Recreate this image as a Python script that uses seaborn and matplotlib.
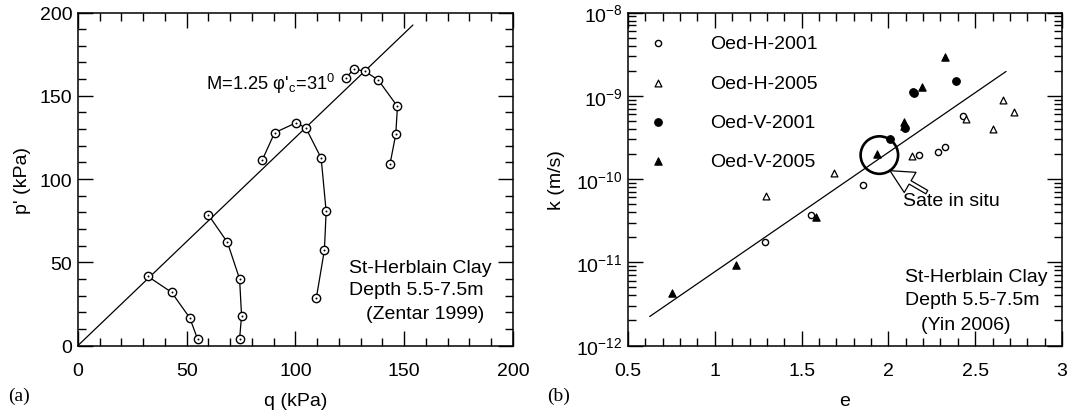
import numpy as np
import pandas as pd
import matplotlib
matplotlib.use("Agg")
import matplotlib.pyplot as plt
import seaborn as sns
from matplotlib.ticker import MultipleLocator, LogLocator, NullFormatter

# ---- (a) undrained stress paths, St-Herblain clay ----
path1_q = [32.0, 43.0, 51.4, 55.0]
path1_p = [41.6, 32.0, 16.6, 3.8]
path2_q = [59.9, 68.7, 74.3, 75.2, 74.3]
path2_p = [78.6, 62.0, 40.0, 18.0, 3.8]
path3_q = [84.8, 90.4, 100.3, 104.8, 111.8, 114.1, 113.3, 109.6]
path3_p = [111.6, 127.8, 133.8, 130.6, 112.6, 80.6, 57.4, 28.6]
path4_q = [123.1, 126.8, 131.9, 138.1, 146.9, 146.1, 143.5]
path4_p = [160.6, 166.0, 164.8, 159.4, 143.6, 126.8, 109.2]

# critical state line p' = M q
M_csl = 1.25
csl_q = [0.0, 154.0]

# ---- (b) permeability vs void ratio ----
h2001_e = [1.289, 1.553, 1.853, 2.175, 2.285, 2.324, 2.428]
h2001_k = [1.77e-11, 3.7e-11, 8.4e-11, 1.96e-10, 2.09e-10, 2.42e-10, 5.75e-10]
h2005_e = [1.297, 1.688, 2.134, 2.448, 2.605, 2.660, 2.724]
h2005_k = [6.3e-11, 1.17e-10, 1.9e-10, 5.25e-10, 4.0e-10, 8.9e-10, 6.3e-10]
v2001_e = [2.012, 2.094, 2.140, 2.150, 2.388]
v2001_k = [3.0e-10, 4.06e-10, 1.12e-9, 1.08e-9, 1.5e-9]
v2005_e = [0.756, 1.124, 1.585, 1.935, 2.092, 2.092, 2.195, 2.326]
v2005_k = [4.3e-12, 9.4e-12, 3.5e-11, 2.0e-10, 4.3e-10, 4.9e-10, 1.26e-9, 2.94e-9]

fit_e = [0.625, 2.678]
fit_k = [2.23e-12, 1.96e-9]

insitu_e = [1.948]
insitu_k = [1.94e-10]

sns.set_theme(style="ticks")
plt.rcParams["font.family"] = ["Liberation Sans", "DejaVu Sans"]
plt.rcParams["mathtext.fontset"] = "custom"
plt.rcParams["mathtext.rm"] = "Liberation Sans"
plt.rcParams["mathtext.it"] = "Liberation Sans:italic"
plt.rcParams["mathtext.bf"] = "Liberation Sans:bold"
for key in ["text.color", "axes.labelcolor", "xtick.color", "ytick.color", "axes.edgecolor"]:
    plt.rcParams[key] = "black"

FS = 14

fig = plt.figure(figsize=(10.7, 4.14), dpi=100)
ax1 = fig.add_axes([0.0729, 0.163, 0.4065, 0.8043])
ax2 = fig.add_axes([0.5869, 0.163, 0.4056, 0.8043])


def style_axes(ax):
    for s in ax.spines.values():
        s.set_linewidth(1.1)
        s.set_visible(True)
    ax.tick_params(which="both", direction="in", top=True, right=True,
                   labelsize=FS, width=1.0)
    ax.tick_params(which="major", length=11)
    ax.tick_params(which="minor", length=5.5)
    ax.tick_params(axis="x", which="major", pad=12)
    ax.tick_params(axis="y", which="major", pad=4)


# ---- panel (a) ----
paths = pd.DataFrame({
    "q": path1_q + path2_q + path3_q + path4_q,
    "p": path1_p + path2_p + path3_p + path4_p,
    "test": ([1] * len(path1_q) + [2] * len(path2_q)
             + [3] * len(path3_q) + [4] * len(path4_q)),
})
csl = pd.DataFrame({"q": csl_q, "p": [M_csl * v for v in csl_q]})

sns.lineplot(data=csl, x="q", y="p", color="black", linewidth=0.9,
             estimator=None, sort=False, ax=ax1)
sns.lineplot(data=paths, x="q", y="p", units="test", estimator=None, sort=False,
             color="black", linewidth=0.9, marker="o", markersize=6,
             markerfacecolor="white", markeredgecolor="black",
             markeredgewidth=1.0, ax=ax1)
sns.scatterplot(data=paths, x="q", y="p", color="black", s=2, linewidth=0,
                ax=ax1, zorder=5)

ax1.set_xlim(0, 200)
ax1.set_ylim(0, 200)
ax1.xaxis.set_major_locator(MultipleLocator(50))
ax1.xaxis.set_minor_locator(MultipleLocator(10))
ax1.yaxis.set_major_locator(MultipleLocator(50))
ax1.yaxis.set_minor_locator(MultipleLocator(10))
style_axes(ax1)
ax1.set_xlabel("q (kPa)", fontsize=FS, labelpad=9)
ax1.set_ylabel("p' (kPa)", fontsize=FS, labelpad=6)

ax1.text(59, 158, "M=1.25 \u03c6'$_{\\mathrm{c}}$=31$^{\\mathrm{0}}$",
         fontsize=13.2, va="center", ha="left")
ax1.text(0.624, 0.233, "St-Herblain Clay", transform=ax1.transAxes,
         fontsize=FS, va="center", ha="left")
ax1.text(0.624, 0.167, "Depth 5.5-7.5m", transform=ax1.transAxes,
         fontsize=FS, va="center", ha="left")
ax1.text(0.662, 0.095, "(Zentar 1999)", transform=ax1.transAxes,
         fontsize=FS, va="center", ha="left")

# ---- panel (b) ----
ax2.set_yscale("log")
sns.lineplot(x=fit_e, y=fit_k, color="black", linewidth=0.9,
             estimator=None, sort=False, ax=ax2)

sns.scatterplot(x=h2001_e, y=h2001_k, marker="o", s=20, color="black",
                facecolor="white", edgecolor="black", linewidth=1.0,
                label="Oed-H-2001", ax=ax2, zorder=4)
sns.scatterplot(x=h2005_e, y=h2005_k, marker="^", s=24, color="black",
                facecolor="white", edgecolor="black", linewidth=0.9,
                label="Oed-H-2005", ax=ax2, zorder=4)
sns.scatterplot(x=v2001_e, y=v2001_k, marker="o", s=30, color="black",
                edgecolor="black", linewidth=0.8,
                label="Oed-V-2001", ax=ax2, zorder=4)
sns.scatterplot(x=v2005_e, y=v2005_k, marker="^", s=28, color="black",
                edgecolor="black", linewidth=0.8,
                label="Oed-V-2005", ax=ax2, zorder=4)

sns.scatterplot(x=insitu_e, y=insitu_k, marker="o", s=27 ** 2,
                facecolor="none", edgecolor="black", linewidth=1.9,
                ax=ax2, zorder=3)

ax2.annotate("Sate in situ", xy=(2.009, 1.26e-10), xytext=(2.082, 5.5e-11),
             fontsize=FS, va="center", ha="left",
             arrowprops=dict(arrowstyle="simple,head_length=1.2,head_width=1.2,tail_width=0.2",
                             fc="white", ec="black", lw=0.9,
                             shrinkA=0, shrinkB=0,
                             patchA=None, relpos=(0.25, 1.0)))

ax2.set_xlim(0.5, 3)
ax2.set_ylim(1e-12, 1e-8)
ax2.xaxis.set_major_locator(MultipleLocator(0.5))
ax2.xaxis.set_minor_locator(MultipleLocator(0.1))
ax2.xaxis.set_major_formatter(matplotlib.ticker.FuncFormatter(
    lambda v, _: f"{v:g}"))
ax2.yaxis.set_major_locator(LogLocator(base=10, numticks=10))
ax2.yaxis.set_minor_locator(LogLocator(base=10, subs=np.arange(2, 10), numticks=10))
ax2.yaxis.set_minor_formatter(NullFormatter())
style_axes(ax2)
ax2.set_xlabel("e", fontsize=FS, labelpad=9)
ax2.set_ylabel("k (m/s)", fontsize=FS, labelpad=8)

ax2.legend(loc="upper left", bbox_to_anchor=(0.047, 0.933), borderaxespad=0,
           borderpad=0, frameon=False, fontsize=FS, handlelength=1.0,
           handletextpad=2.2, labelspacing=1.11, markerscale=1.0)

ax2.text(0.638, 0.206, "St-Herblain Clay", transform=ax2.transAxes,
         fontsize=FS, va="center", ha="left")
ax2.text(0.638, 0.137, "Depth 5.5-7.5m", transform=ax2.transAxes,
         fontsize=FS, va="center", ha="left")
ax2.text(0.675, 0.063, "(Yin 2006)", transform=ax2.transAxes,
         fontsize=FS, va="center", ha="left")

fig.text(0.008, 0.042, "(a)", fontsize=FS, family="Liberation Serif",
         va="center", ha="left")
fig.text(0.511, 0.042, "(b)", fontsize=FS, family="Liberation Serif",
         va="center", ha="left")

fig.savefig("out.png", dpi=100)
